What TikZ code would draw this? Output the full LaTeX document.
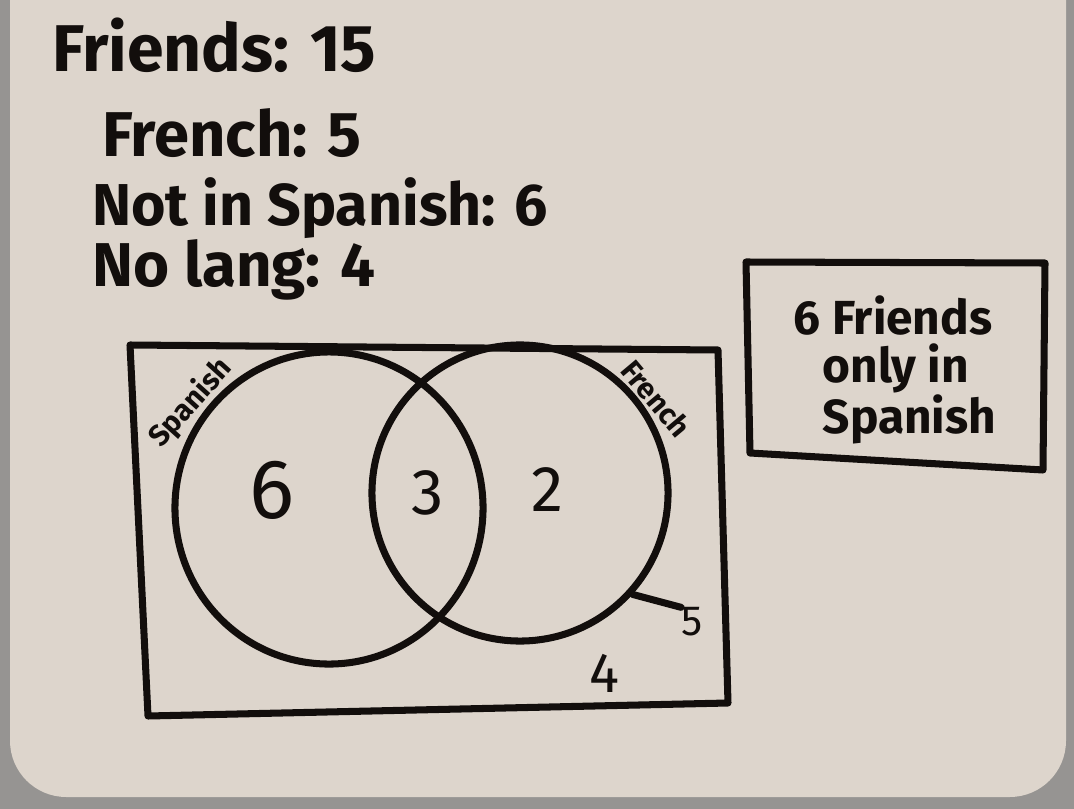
\documentclass[tikz,border=0pt]{standalone}
\usepackage{fontspec}
\setmainfont{Fira Sans}
\definecolor{board}{RGB}{221, 213, 204}
\definecolor{frame}{RGB}{150, 148, 146}
\definecolor{ink}{RGB}{18, 14, 12}
\usetikzlibrary{shapes.geometric, positioning}

\begin{document}
\begin{tikzpicture}[
            x=0.025cm, y=-0.025cm,
            marker/.style={draw=ink, line width=5pt, line join=round, line cap=round},
            note/.style={text=ink, font=\bfseries, anchor=west, inner sep=0pt},
            count/.style={text=ink, font=\fontsize{46}{50}\selectfont, inner sep=0pt},
            setring/.style={marker, ellipse, inner sep=0pt},
            setname/.style={text=ink, font=\bfseries\fontsize{21}{24}\selectfont, inner sep=0pt}
        ]
            % board and frame
            \useasboundingbox (0,0) rectangle (1074,809);
            \clip (0,0) rectangle (1074,809);
            \fill[frame] (0,0) rectangle (1074,809);
            \fill[board, rounded corners=40] (10,-60) rectangle (1066,797);
            % notes at the top
            \node[note, font=\bfseries\fontsize{47}{50}\selectfont] (friends) at (52,45) {Friends: 15};
            \node[note, font=\bfseries\fontsize{45}{48}\selectfont] (french) at (102,133) {French: 5};
            \node[note, font=\bfseries\fontsize{42}{46}\selectfont] (notspa) at (92,208) {Not in Spanish: 6};
            \node[note, font=\bfseries\fontsize{44}{48}\selectfont] (nolang) at (92,270) {No lang: 4};
            % universal set
            \draw[marker] (130,345) -- (718,350) -- (728,703) -- (148,716) -- cycle;
            \node[setring, minimum width=7.7cm, minimum height=7.8cm] (spanishset) at (329,508) {};
            \node[setring, minimum width=7.4cm, minimum height=7.4cm] (frenchset) at (520,493) {};
            \node[setname, rotate=48] (spanishname) at (191,403) {Spanish};
            \node[setname, rotate=-50] (frenchname) at (656,398) {French};
            % region counts
            \node[count, font=\fontsize{60}{64}\selectfont] (onlyspa) at (272,490) {6};
            \node[count] (both) at (428,493) {3};
            \node[count] (onlyfre) at (548,490) {2};
            \node[count, font=\fontsize{40}{44}\selectfont] (none) at (604,673) {4};
            \node[count, font=\fontsize{30}{34}\selectfont] (frtotal) at (692,622) {5};
            \draw[marker] (frenchset.-42) -- (frtotal.north west);
            % answer box
            \draw[marker] (746,262) -- (1045,263) -- (1043,470) -- (750,453) -- cycle;
            \node[text=ink, font=\bfseries\fontsize{34}{34}\selectfont, align=left, inner sep=0pt] (answer) at (895,370) {6 Friends\\\hspace{0.6em}only in\\\hspace{0.6em}Spanish};
        \end{tikzpicture}
\end{document}
